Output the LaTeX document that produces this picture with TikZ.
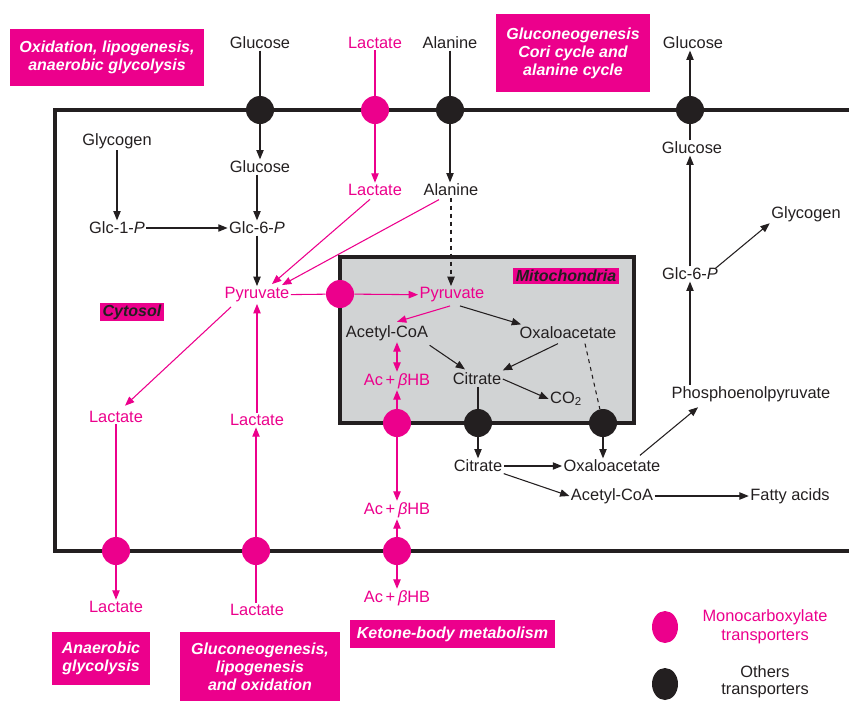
\documentclass[tikz,border=0pt]{standalone}
\usepackage{fontspec}
\setmainfont{Liberation Sans}
\usetikzlibrary{arrows.meta,calc,shapes.geometric}
\definecolor{mag}{HTML}{EC008C}
\definecolor{ink}{HTML}{231F20}
\definecolor{mitofill}{HTML}{D1D3D4}
\begin{document}
\begin{tikzpicture}[x=0.75pt,y=-0.75pt,font=\fontsize{12.3}{14}\selectfont,
  lbl/.style={text=ink,inner sep=1pt},
  mlbl/.style={text=mag,inner sep=1pt},
  tag/.style={fill=mag,text=white,font=\fontsize{12}{13.5}\selectfont\bfseries\itshape,align=center,inner sep=0pt},
  dtag/.style={tag,text=ink,inner xsep=2pt,inner ysep=1.5pt},
  ar/.style={draw=ink,line width=0.8pt,-{Triangle[length=7pt,width=5.5pt]}},
  mar/.style={draw=mag,line width=0.8pt,-{Triangle[length=7pt,width=5.5pt]}},
  ln/.style={draw=ink,line width=0.8pt},
  mln/.style={draw=mag,line width=0.8pt},
  mct/.style={circle,fill=mag,minimum size=21pt,inner sep=0pt},
  oct/.style={circle,fill=ink,minimum size=21pt,inner sep=0pt},
  memb/.style={draw=ink,line width=3pt}]
\useasboundingbox (0,0) rectangle (849,700);
% membranes
\draw[memb] (853,110) -- (55,110) -- (55,551) -- (853,551);
\draw[memb,fill=mitofill] (340,257) rectangle (634,423);
% tags
\node[tag,minimum width=145.5pt,minimum height=42.75pt] (tagA) at (107,57.5) {Oxidation, lipogenesis,\\anaerobic glycolysis};
\node[tag,minimum width=115.5pt,minimum height=58.5pt] (tagB) at (573,53) {Gluconeogenesis\\Cori cycle and\\alanine cycle};
\node[dtag] (tagC) at (132,312) {Cytosol};
\node[dtag] (tagM) at (566,276) {Mitochondria};
\node[tag,minimum width=73.5pt,minimum height=39.75pt] (tagD) at (101,658.5) {Anaerobic\\glycolysis};
\node[tag,minimum width=120pt,minimum height=52.5pt] (tagE) at (260,667) {Gluconeogenesis,\\lipogenesis\\and oxidation};
\node[tag,minimum width=153.75pt,minimum height=21pt] (tagF) at (452.5,634) {Ketone-body metabolism};
% transporters
\node[oct] (t1) at (260,110) {};
\node[mct] (t2) at (375,110) {};
\node[oct] (t3) at (450,110) {};
\node[oct] (t4) at (690,110) {};
\node[mct] (mpT) at (340,294) {};
\node[mct] (t5) at (397,423) {};
\node[oct] (t6) at (478,423) {};
\node[oct] (t7) at (603,423) {};
\node[mct] (t8) at (116,551) {};
\node[mct] (t9) at (256,551) {};
\node[mct] (t10) at (397,551) {};
% labels
\node[lbl] (gluT) at (260,43) {Glucose};
\node[mlbl] (lacT) at (375,43) {Lactate};
\node[lbl] (alaT) at (450,43) {Alanine};
\node[lbl] (gluTR) at (693,43) {Glucose};
\node[lbl] (glycogen) at (117,141) {Glycogen};
\node[lbl] (glc1p) at (117,228) {Glc-1-\textit{P}};
\node[lbl] (glu1) at (260,167) {Glucose};
\node[lbl] (glc6p) at (257,228) {Glc-6-\textit{P}};
\node[mlbl] (lac1) at (375,190) {Lactate};
\node[lbl] (ala1) at (451,190) {Alanine};
\node[mlbl] (pyr) at (257,295) {Pyruvate};
\node[mlbl] (pyrM) at (452,295) {Pyruvate};
\node[lbl] (acoa) at (387,333) {Acetyl-CoA};
\node[lbl] (oaa) at (568,333) {Oxaloacetate};
\node[mlbl] (achb1) at (397,381) {Ac\,+\,\textit{β}HB};
\node[lbl] (cit1) at (477,379) {Citrate};
\node[lbl] (co2) at (566,399) {CO\textsubscript{2}};
\node[mlbl] (achb2) at (397,510) {Ac\,+\,\textit{β}HB};
\node[lbl] (cit2) at (478,466) {Citrate};
\node[lbl] (oaa2) at (612,466) {Oxaloacetate};
\node[lbl] (acoa2) at (612,496) {Acetyl-CoA};
\node[lbl] (fatty) at (790,496) {Fatty acids};
\node[lbl] (pep) at (751,394) {Phosphoenolpyruvate};
\node[lbl] (glc6p2) at (690,274) {Glc-6-\textit{P}};
\node[lbl] (glu2) at (692,148) {Glucose};
\node[lbl] (glycogen2) at (806,214) {Glycogen};
\node[mlbl] (lacL) at (116,417) {Lactate};
\node[mlbl] (lacM) at (257,420) {Lactate};
\node[mlbl] (lacB1) at (116,607) {Lactate};
\node[mlbl] (lacB2) at (257,610) {Lactate};
\node[mlbl] (achb3) at (397,598) {Ac\,+\,\textit{β}HB};
% legend
\node[ellipse,fill=mag,minimum width=19.5pt,minimum height=24pt,inner sep=0pt] (legM) at (665,627) {};
\node[mlbl,align=center] (legMt) at (765,627) {Monocarboxylate\\transporters};
\node[ellipse,fill=ink,minimum width=19.5pt,minimum height=24pt,inner sep=0pt] (legO) at (665,684) {};
\node[lbl,align=center,font=\fontsize{12.3}{13}\selectfont] (legOt) at (765,682) {Others\\transporters};
% connectors: top
\draw[ln] (gluT) -- (t1);
\draw[ar] (t1) -- (glu1);
\draw[mln] (lacT) -- (t2);
\draw[mar] (t2) -- (lac1);
\draw[ln] (alaT) -- (t3);
\draw[ar] (t3) -- (t3 |- ala1.north);
\draw[ln] (t4 |- glu2.north) -- (t4);
\draw[ar] (t4) -- (t4 |- gluTR.south);
% cytosol glycolysis
\draw[ar] (glycogen) -- (glc1p);
\draw[ar] (glc1p) -- (glc6p);
\draw[ar] (glu1.south -| glc6p) -- (glc6p);
\draw[ar] (glc6p) -- (pyr);
\draw[mar] ($(lac1.south)+(-5,2)$) -- ($(pyr.north)+(15,-2)$);
\draw[mar] ($(ala1.south)+(-12,2)$) -- ($(pyr.north)+(25,-1)$);
\draw[ar,dashed] (ala1) -- (ala1 |- pyrM.north);
\draw[mln] (pyr) -- (mpT);
\draw[mar] (mpT) -- (pyrM);
% mitochondria
\draw[mar] ($(pyrM.south)+(-2,2)$) -- ($(acoa.north)+(10,-2)$);
\draw[ar] ($(pyrM.south)+(8,2)$) -- ($(oaa.north west)+(3,-1)$);
\draw[mar,{Triangle[length=7pt,width=5.5pt]}-{Triangle[length=7pt,width=5.5pt]}] (achb1.north |- acoa.south) -- (achb1.north);
\draw[ar] ($(acoa.south east)+(0,3)$) -- ($(cit1.north)+(-12,-2)$);
\draw[ar] ($(oaa.south)+(-10,3)$) -- ($(cit1.north east)+(0,-1)$);
\draw[ar] (cit1.east) -- (co2.west);
\draw[ln,dashed] ($(oaa.south)+(17,3)$) -- (t7);
\draw[mar] (t5) -- (achb1);
\draw[mar] (t5) -- (achb2);
\draw[ln] (cit1.south -| t6) -- (t6);
\draw[ar] (t6) -- (cit2);
\draw[ar] (t7) -- (t7 |- oaa2.north);
% cytosol lipogenesis / gluconeogenesis
\draw[ar] (cit2) -- (oaa2);
\draw[ar] (cit2.south east) -- (acoa2.west);
\draw[ar] (acoa2) -- (fatty);
\draw[ar] ($(oaa2.north east)+(-22,-3)$) -- ($(pep.south west)+(28,4)$);
\draw[ar] (pep.north -| glc6p2) -- (glc6p2);
\draw[ar] (glc6p2.north -| t4) -- (t4 |- glu2.south);
\draw[ar] ($(glc6p2.north east)+(-4,2)$) -- (glycogen2.south west);
% lactate
\draw[mar] ($(pyr.south west)+(8,3)$) -- ($(lacL.north)+(9,-4)$);
\draw[mln] (lacL) -- (t8);
\draw[mar] (t8) -- (lacB1);
\draw[mln] (t9 |- lacB2.north) -- (t9);
\draw[mar] (t9) -- (t9 |- lacM.south);
\draw[mar] (lacM) -- (pyr);
\draw[mar] (t10) -- (achb2);
\draw[mar] (t10) -- (achb3);
\end{tikzpicture}
\end{document}
